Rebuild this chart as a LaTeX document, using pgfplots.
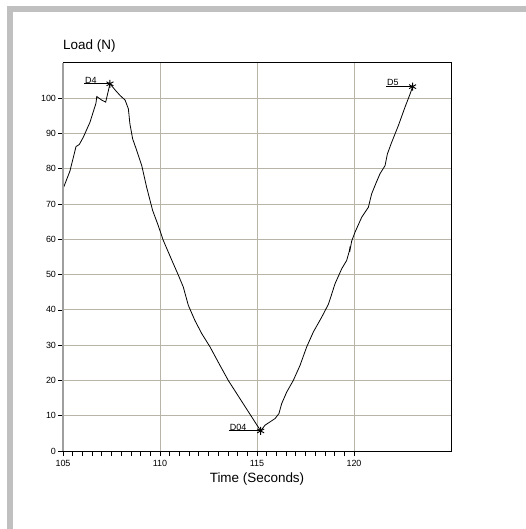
\documentclass[border=0pt]{standalone}
\usepackage{fontspec}
\setmainfont{Liberation Sans}
\usepackage{pgfplots}
\pgfplotsset{compat=1.18}
\definecolor{gridc}{RGB}{184,180,168}
\definecolor{framec}{RGB}{192,192,192}
\begin{document}
\begin{tikzpicture}
\path[use as bounding box] (-63bp,-78bp) rectangle (463bp,451bp);
\fill[framec] (-56bp,-78bp) rectangle (-50bp,445bp);
\fill[framec] (-56bp,439bp) rectangle (463bp,445bp);
\begin{axis}[
  scale only axis, width=388bp, height=388bp,
  xmin=105, xmax=125, ymin=0, ymax=110,
  xtick={105,110,115,120}, minor x tick num=9,
  ytick={0,10,...,100},
  tick pos=left, tick align=outside,
  major tick length=5bp, minor tick length=5bp,
  every tick/.style={black, line width=0.8bp},
  grid=major,
  major grid style={gridc, line width=0.9bp},
  axis line style={black, line width=1bp},
  ticklabel style={font=\fontsize{9}{10}\selectfont},
  xticklabel style={yshift=-1bp},
  yticklabel style={xshift=1.5bp},
  /pgf/number format/assume math mode=true,
  clip=false,
]
\addplot[black, line width=0.8bp, mark=none] coordinates {
(105.00,74.3) (105.36,79.4) (105.67,86.3) (105.84,86.9) (106.05,89.0)
(106.39,93.2) (106.70,98.6) (106.74,100.5) (106.99,99.5) (107.20,98.9)
(107.34,102.2) (107.42,104.1) (107.68,102.4) (107.94,100.8) (108.20,99.5)
(108.37,97.0) (108.45,92.7) (108.59,88.5) (108.80,85.2) (109.06,80.9)
(109.31,74.8) (109.62,68.2) (109.91,63.9) (110.17,59.7) (110.60,54.2)
(110.95,49.8) (111.20,46.5) (111.46,41.3) (111.80,37.0) (112.15,33.3)
(112.58,29.5) (113.09,24.3) (113.52,20.0) (115.19,5.7) (115.41,7.3)
(115.93,9.2) (116.13,10.6) (116.27,13.4) (116.53,16.7) (116.87,20.0)
(117.22,24.3) (117.56,29.5) (117.90,33.7) (118.34,38.0) (118.68,41.6)
(118.80,43.6) (119.02,47.4) (119.37,51.7) (119.62,54.0) (119.76,56.7)
(119.80,58.0) (119.78,56.5) (119.88,59.5) (120.05,62.0) (120.40,66.3)
(120.74,69.1) (120.91,72.9) (121.13,75.9) (121.34,78.6) (121.60,80.9)
(121.72,84.2) (121.94,87.5) (122.29,92.3) (122.63,97.5) (122.89,101.2)
(123.02,103.3)
};
% markers
\addplot[black, only marks, mark=asterisk, mark size=4bp, line width=0.9bp] coordinates {
(107.42,104.1) (115.19,5.7) (123.02,103.3)
};
% leader lines
\addplot[black, line width=0.8bp] coordinates {(106.10,104.1) (107.42,104.1)};
\addplot[black, line width=0.8bp] coordinates {(113.56,5.7) (115.19,5.7)};
\addplot[black, line width=0.8bp] coordinates {(121.67,103.3) (123.02,103.3)};
\node[anchor=south west, inner sep=0.6bp, font=\fontsize{9}{10}\selectfont] at (axis cs:106.10,104.1) {D4};
\node[anchor=south west, inner sep=0.6bp, font=\fontsize{9}{10}\selectfont] at (axis cs:113.56,5.7) {D04};
\node[anchor=south west, inner sep=0.6bp, font=\fontsize{9}{10}\selectfont] at (axis cs:121.67,103.3) {D5};
% gray left axis line
\draw[gray!75, line width=1.3bp] (rel axis cs:0,0) -- (rel axis cs:0,1);
% labels
\node[anchor=base west, inner sep=0pt, font=\fontsize{13.5}{15}\selectfont] at ([yshift=13bp]rel axis cs:0,1) {Load (N)};
\node[anchor=base, inner sep=0pt, font=\fontsize{13.5}{15}\selectfont] at ([yshift=-31bp]rel axis cs:0.5,0) {Time (Seconds)};
\end{axis}
\end{tikzpicture}
\end{document}
